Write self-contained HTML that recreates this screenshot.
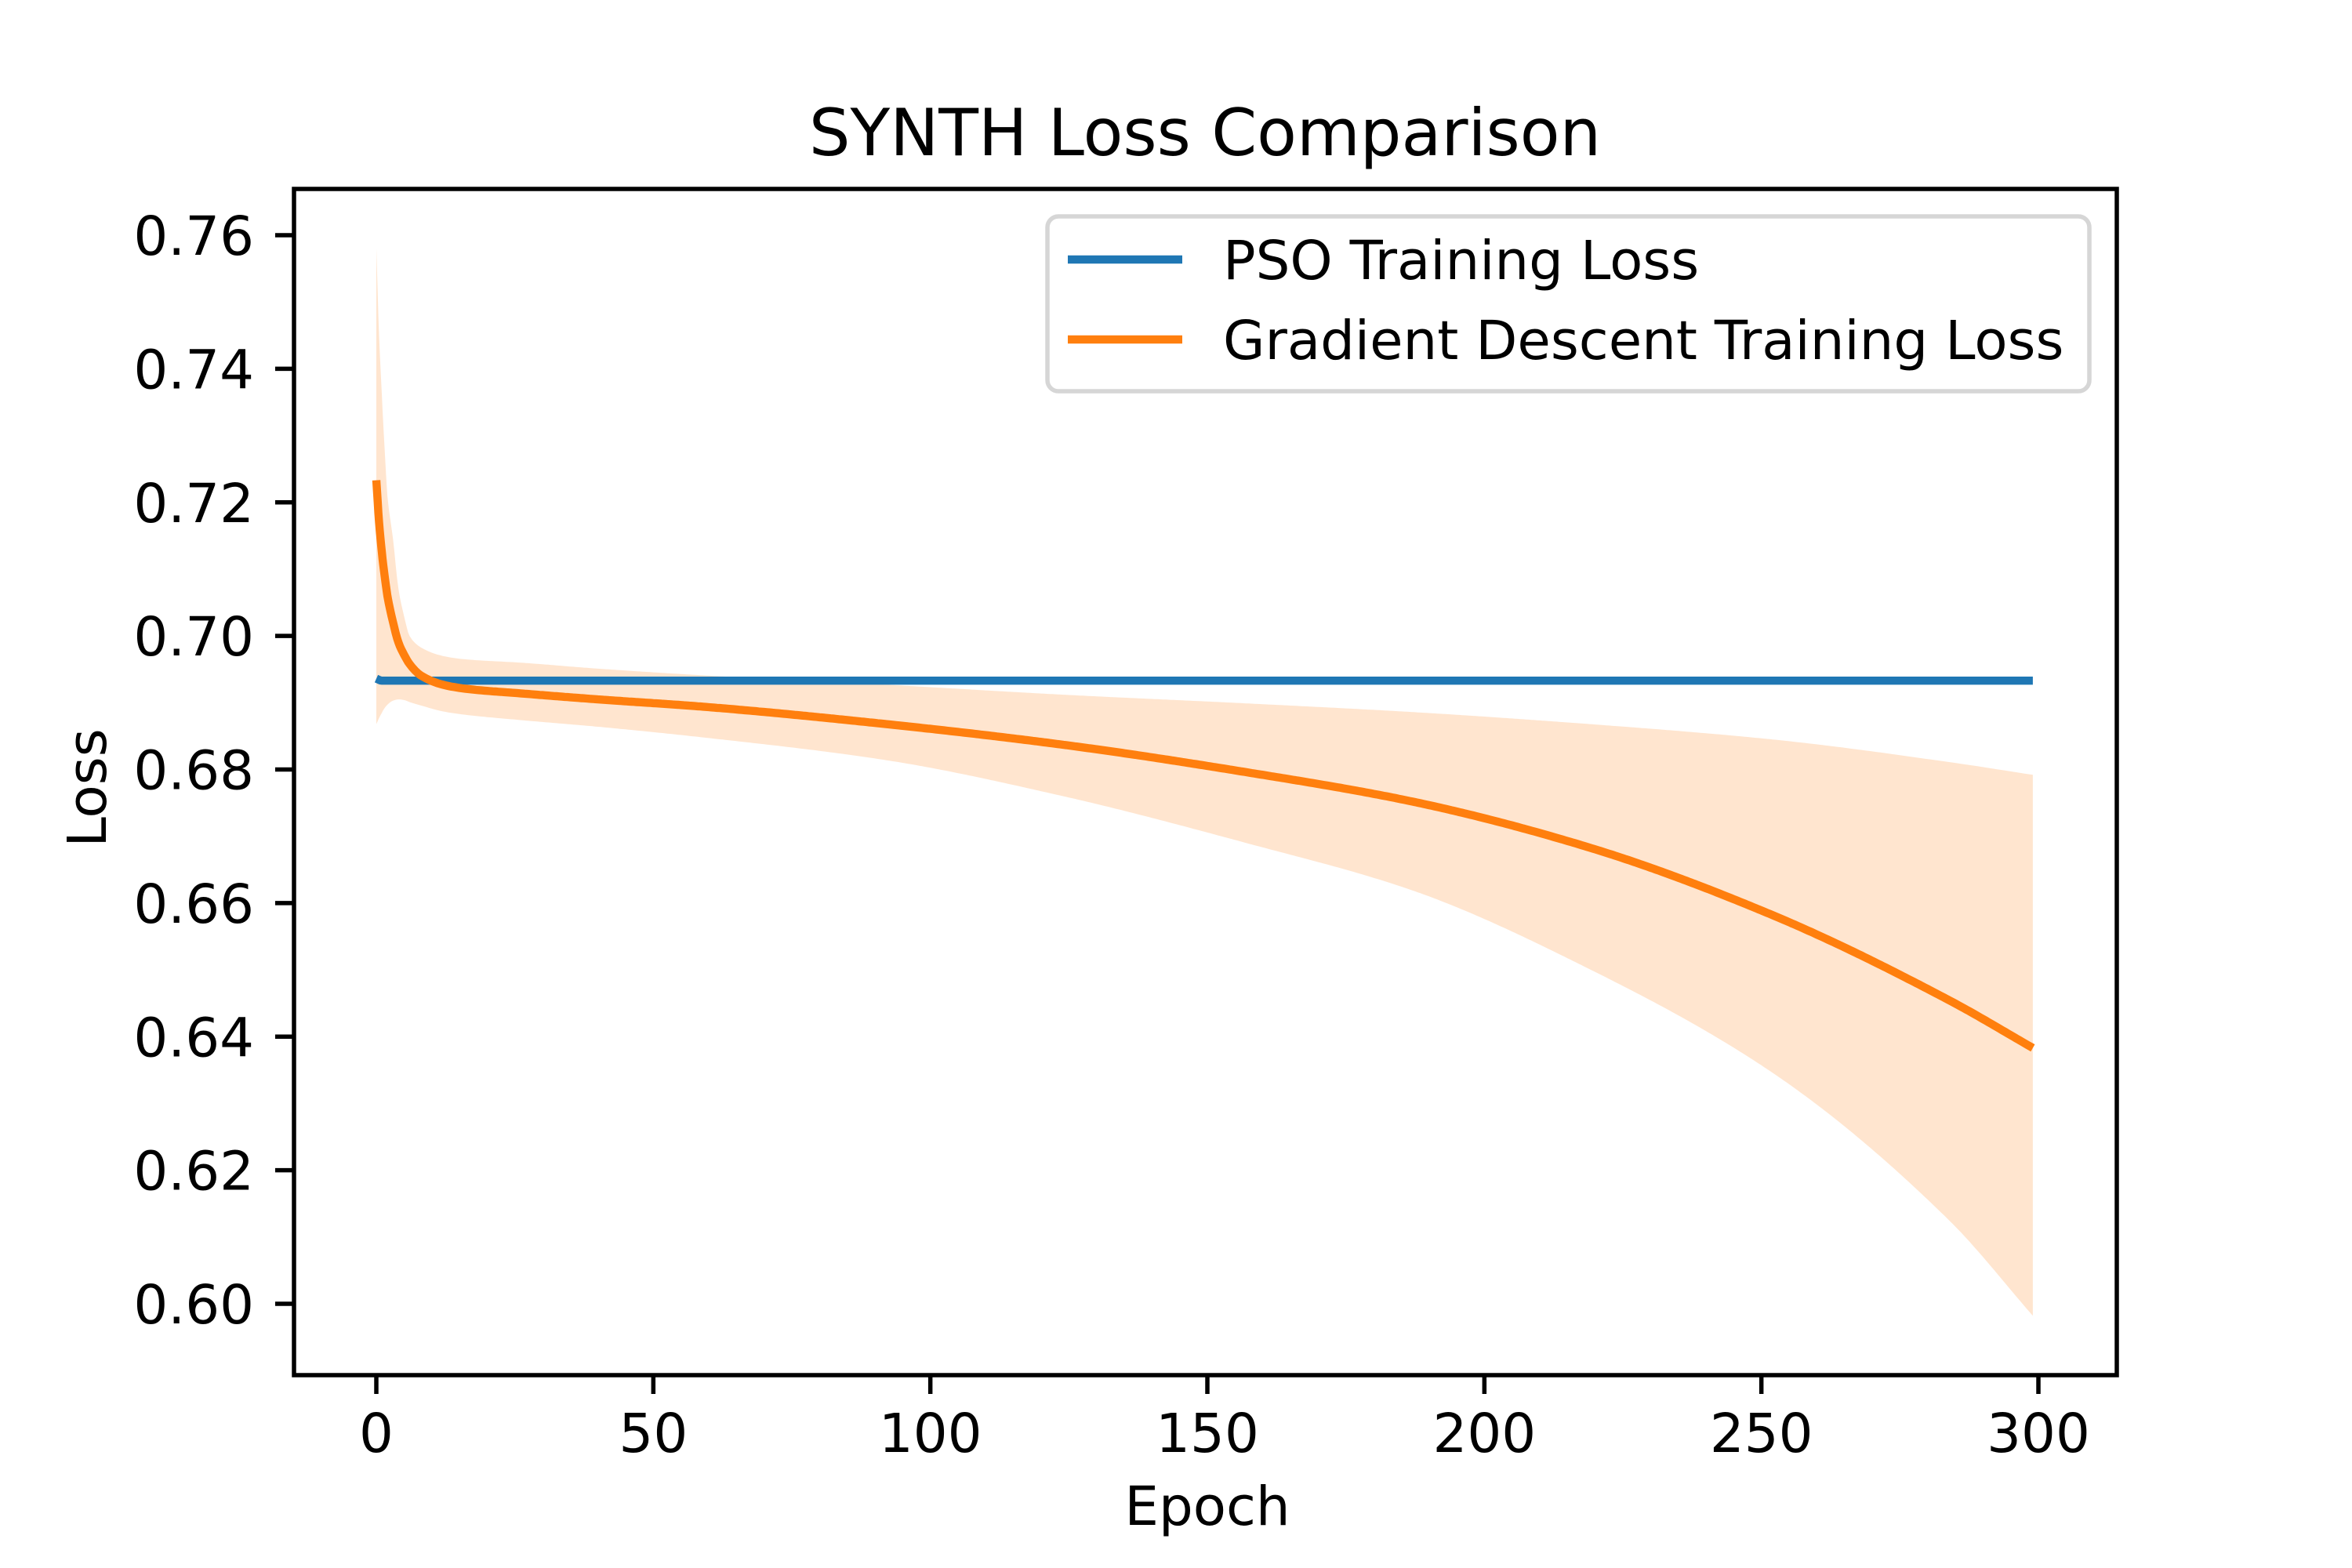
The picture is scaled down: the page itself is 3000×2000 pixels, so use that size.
<!DOCTYPE html>
<html><head><meta charset="utf-8"><style>
html,body{margin:0;padding:0;background:#fff;}
svg{display:block;font-family:"DejaVu Sans","Liberation Sans",sans-serif;}
</style></head><body>
<svg id="chart" width="3000" height="2000" viewBox="0 0 3000 2000">
<rect x="0" y="0" width="3000" height="2000" fill="#fff"/>
<text x="1537" y="198" font-size="83" text-anchor="middle">SYNTH Loss Comparison</text>
<g id="plot"></g>
<rect x="375" y="241" width="2325" height="1513" fill="none" stroke="#000" stroke-width="5.5"/>
<g id="xticks"></g>
<g id="yticks"></g>
<text x="1540" y="1945" font-size="69" text-anchor="middle">Epoch</text>
<text transform="translate(135,1005) rotate(-90)" font-size="69" text-anchor="middle">Loss</text>
<g>
<rect x="1336" y="276" width="1329" height="223" rx="14" fill="#fff" fill-opacity="0.8" stroke="#d6d6d6" stroke-width="5.5"/>
<line x1="1362" y1="331" x2="1508" y2="331" stroke="#1f77b4" stroke-width="10.4"/>
<text x="1560" y="356" font-size="69">PSO Training Loss</text>
<line x1="1362" y1="433" x2="1508" y2="433" stroke="#ff7f0e" stroke-width="10.4"/>
<text x="1560" y="458" font-size="69">Gradient Descent Training Loss</text>
</g>
</svg>
<script>
const gdEpochs = [0,0.5,1,1.5,2,3,4,5,6,8,12,16,26,40,59,92,124,157,187,219,252,284,299];
const gdMean = [0.7233,0.717,0.7125,0.709,0.706,0.7021,0.699,0.6972,0.6958,0.6941,0.6927,0.6921,0.6914,0.6905,0.6894,0.6868,0.6837,0.6796,0.6752,0.6683,0.6582,0.6454,0.6383];
const gdUpper = [0.758,0.745,0.736,0.728,0.721,0.7146,0.707,0.703,0.700,0.6983,0.697,0.6965,0.696,0.6951,0.6941,0.6927,0.6912,0.6899,0.6886,0.6868,0.6845,0.6811,0.6792];
const gdLower = [0.6868,0.6877,0.6885,0.6892,0.6897,0.6903,0.6905,0.6904,0.6901,0.6896,0.6887,0.6882,0.6874,0.6864,0.6848,0.6814,0.6760,0.6690,0.6619,0.6501,0.6346,0.6124,0.5982];
const psoEpochs = [0,1,3,299];
const psoLoss = [0.6936,0.6933,0.6933,0.6933];
const xTicks = [0,50,100,150,200,250,300];
const yTicks = [0.60,0.62,0.64,0.66,0.68,0.70,0.72,0.74,0.76];

const NS = "http://www.w3.org/2000/svg";
function xs(e){ return 480 + e * (2120/300); }
function ys(v){ return 300 + (0.76 - v) * (1363/0.16); }

function curvePts(ex, vals){
  const n = ex.length, d = [], m = new Array(n);
  for(let i=0;i<n-1;i++) d.push((vals[i+1]-vals[i])/(ex[i+1]-ex[i]));
  m[0]=d[0]; m[n-1]=d[n-2];
  for(let i=1;i<n-1;i++){
    if(d[i-1]*d[i]<=0) m[i]=0;
    else { const w1=2*(ex[i+1]-ex[i])+(ex[i]-ex[i-1]), w2=(ex[i+1]-ex[i])+2*(ex[i]-ex[i-1]);
      m[i]=(w1+w2)/(w1/d[i-1]+w2/d[i]); }
  }
  const out=[];
  for(let i=0;i<n-1;i++){
    const h=ex[i+1]-ex[i], steps=Math.max(4,Math.ceil(h*2));
    for(let k=0;k<steps;k++){
      const t=k/steps, t2=t*t, t3=t2*t;
      const v=(2*t3-3*t2+1)*vals[i]+(t3-2*t2+t)*h*m[i]+(-2*t3+3*t2)*vals[i+1]+(t3-t2)*h*m[i+1];
      out.push([xs(ex[i]+t*h), ys(v)]);
    }
  }
  out.push([xs(ex[n-1]), ys(vals[n-1])]);
  return out;
}
function pathD(pts){ return pts.map(q=>q[0].toFixed(1)+','+q[1].toFixed(1)).join('L'); }
const plot = document.getElementById('plot');
const up = curvePts(gdEpochs, gdUpper), lo = curvePts(gdEpochs, gdLower).reverse();
const band = document.createElementNS(NS,'path');
band.setAttribute('d','M'+pathD(up.concat(lo))+'Z');
band.setAttribute('fill','#ff7f0e');
band.setAttribute('fill-opacity','0.2');


plot.appendChild(band);

const pso = document.createElementNS(NS,'path');
pso.setAttribute('d','M'+pathD(curvePts(psoEpochs, psoLoss)));
pso.setAttribute('fill','none'); pso.setAttribute('stroke','#1f77b4'); pso.setAttribute('stroke-width','10.4');


plot.appendChild(pso);

const gd = document.createElementNS(NS,'path');
gd.setAttribute('d','M'+pathD(curvePts(gdEpochs, gdMean)));
gd.setAttribute('fill','none'); gd.setAttribute('stroke','#ff7f0e'); gd.setAttribute('stroke-width','10.4');


plot.appendChild(gd);

const xg = document.getElementById('xticks');
xTicks.forEach(t=>{
  const x = xs(t);
  const l = document.createElementNS(NS,'line');
  l.setAttribute('x1',x); l.setAttribute('x2',x); l.setAttribute('y1',1754); l.setAttribute('y2',1778);
  l.setAttribute('stroke','#000'); l.setAttribute('stroke-width','5.5');
  
  
  xg.appendChild(l);
  const tx = document.createElementNS(NS,'text');
  tx.setAttribute('x',x); tx.setAttribute('y',1852); tx.setAttribute('font-size','69'); tx.setAttribute('text-anchor','middle');
  tx.textContent = String(t);
  
  
  xg.appendChild(tx);
});
const yg = document.getElementById('yticks');
yTicks.forEach(t=>{
  const y = ys(t);
  const l = document.createElementNS(NS,'line');
  l.setAttribute('x1',351); l.setAttribute('x2',375); l.setAttribute('y1',y); l.setAttribute('y2',y);
  l.setAttribute('stroke','#000'); l.setAttribute('stroke-width','5.5');
  
  
  yg.appendChild(l);
  const tx = document.createElementNS(NS,'text');
  tx.setAttribute('x',324); tx.setAttribute('y',y+25); tx.setAttribute('font-size','69'); tx.setAttribute('text-anchor','end');
  tx.textContent = t.toFixed(2);
  
  
  yg.appendChild(tx);
});
</script>
</body></html>
